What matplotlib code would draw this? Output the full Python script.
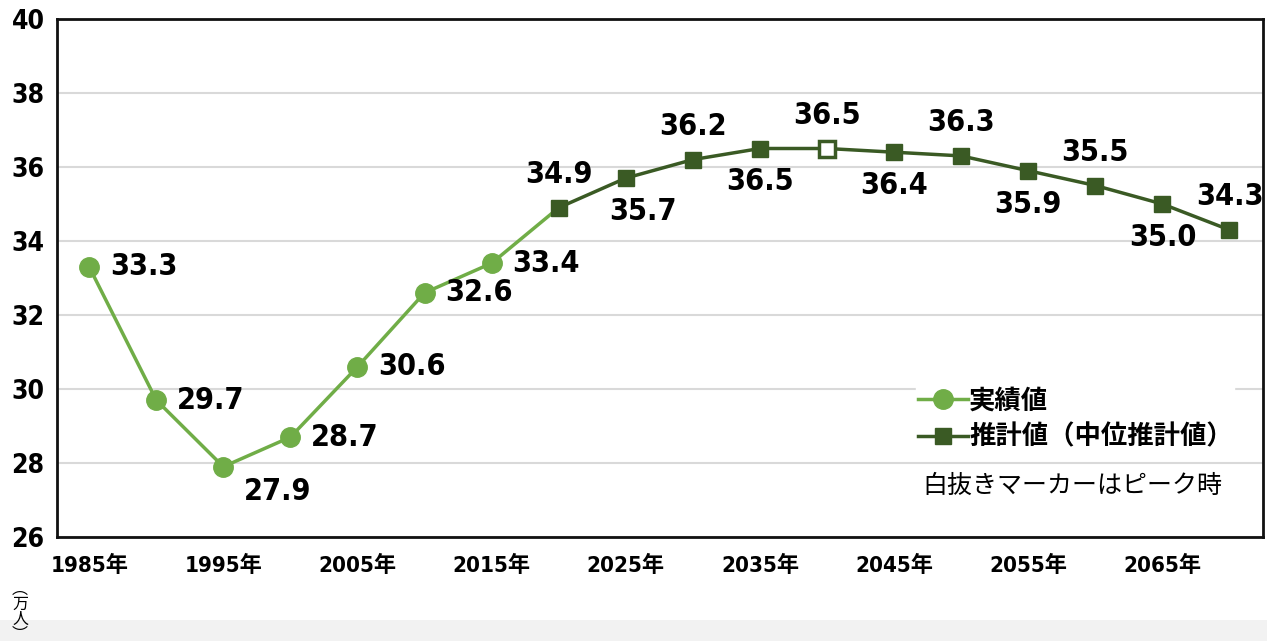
import matplotlib
matplotlib.use("Agg")
import matplotlib.pyplot as plt
from matplotlib import font_manager
from matplotlib.patches import Rectangle

# data
actual_years = [1985, 1990, 1995, 2000, 2005, 2010, 2015]
actual_vals = [33.3, 29.7, 27.9, 28.7, 30.6, 32.6, 33.4]
proj_years = [2020, 2025, 2030, 2035, 2040, 2045, 2050, 2055, 2060, 2065, 2070]
proj_vals = [34.9, 35.7, 36.2, 36.5, 36.5, 36.4, 36.3, 35.9, 35.5, 35.0, 34.3]
peak_year = 2040
xtick_years = [1985, 1995, 2005, 2015, 2025, 2035, 2045, 2055, 2065]
yticks = [26, 28, 30, 32, 34, 36, 38, 40]
# label placement for projected points: 1 = above, -1 = below
proj_label_side = [1, -1, 1, -1, 1, -1, 1, -1, 1, -1, 1]

LIGHT = "#70ad47"
DARK = "#3a5a24"

# the reference uses a condensed bold face for numbers
narrow = "DejaVu Sans"
cands = [f for f in font_manager.fontManager.ttflist
         if ("Narrow" in f.name or "Condensed" in f.name or "condensed" in str(f.stretch))]
bold = [f for f in cands if f.weight in ("bold", 700) or (isinstance(f.weight, int) and f.weight >= 600)]
if bold:
    narrow = bold[0].name
elif cands:
    narrow = cands[0].name
NUM_FONT = [narrow, "Noto Sans CJK JP"]
JP_FONT = ["Noto Sans CJK JP", "DejaVu Sans"]
plt.rcParams["font.family"] = NUM_FONT
plt.rcParams["font.stretch"] = "condensed"

fig = plt.figure(figsize=(12.67, 6.41), dpi=100)
fig.patches.append(Rectangle((0, 0), 1, 21 / 641, transform=fig.transFigure,
                             facecolor="#f2f2f2", edgecolor="none", zorder=0))
ax = fig.add_axes([57 / 1267, 1 - 537 / 641, (1263 - 57) / 1267, (537 - 19) / 641])

ax.set_xlim(1982.6, 2072.5)
ax.set_ylim(26, 40)
ax.set_yticks(yticks)
ax.set_yticklabels([str(v) for v in yticks], fontsize=19, fontweight="bold")
ax.set_xticks(xtick_years)
ax.set_xticklabels([f"{y}年" for y in xtick_years], fontsize=16, fontweight="bold")
ax.tick_params(length=0)
ax.tick_params(axis="y", pad=9)
ax.tick_params(axis="x", pad=13)
ax.grid(axis="y", color="#d9d9d9", linewidth=1.5)
ax.set_axisbelow(True)
for s in ax.spines.values():
    s.set_linewidth(2)
    s.set_color("#111111")

# connecting segment actual -> projection
ax.plot([actual_years[-1], proj_years[0]], [actual_vals[-1], proj_vals[0]],
        color=LIGHT, linewidth=2.5, zorder=2)
ax.plot(actual_years, actual_vals, color=LIGHT, linewidth=2.5, marker="o",
        markersize=14, markeredgecolor=LIGHT, label="実績値", zorder=3)
ax.plot(proj_years, proj_vals, color=DARK, linewidth=2.5, marker="s",
        markersize=11, markeredgecolor=DARK, label="推計値（中位推計値）", zorder=3)
pk = proj_years.index(peak_year)
ax.plot([proj_years[pk]], [proj_vals[pk]], marker="s", markersize=11,
        markerfacecolor="white", markeredgecolor=DARK, markeredgewidth=2.5,
        linestyle="none", zorder=4)

for x, y in zip(actual_years, actual_vals):
    dy = -18 if y == min(actual_vals) else 0
    ax.annotate(f"{y:.1f}", (x, y), xytext=(15, dy), textcoords="offset points",
                ha="left", va="center", fontsize=22, fontweight="bold")
for i, (x, y, side) in enumerate(zip(proj_years, proj_vals, proj_label_side)):
    dx = 12 if i == 1 else 0
    ax.annotate(f"{y:.1f}", (x, y), xytext=(dx, 24 * side), textcoords="offset points",
                ha="center", va="center", fontsize=22, fontweight="bold")

leg = ax.legend(loc="upper left", bbox_to_anchor=((903 - 57) / 1206, 1 - (373 - 19) / 518),
                frameon=True, framealpha=1, edgecolor="white", fancybox=False,
                handlelength=1.9, handletextpad=0.05, borderpad=0.05, labelspacing=0.35,
                prop={"family": JP_FONT, "weight": "bold", "size": 19})
ax.text((922 - 57) / 1206, 1 - (486 - 19) / 518, "白抜きマーカーはピーク時",
        transform=ax.transAxes, family=JP_FONT, fontsize=18, ha="left", va="center")

fig.text(20 / 1267, 1 - 612 / 641, "︵\n万\n人\n︶", family=JP_FONT, fontsize=11.5,
         ha="center", va="center", linespacing=0.85)

fig.savefig("out.png", dpi=100)
